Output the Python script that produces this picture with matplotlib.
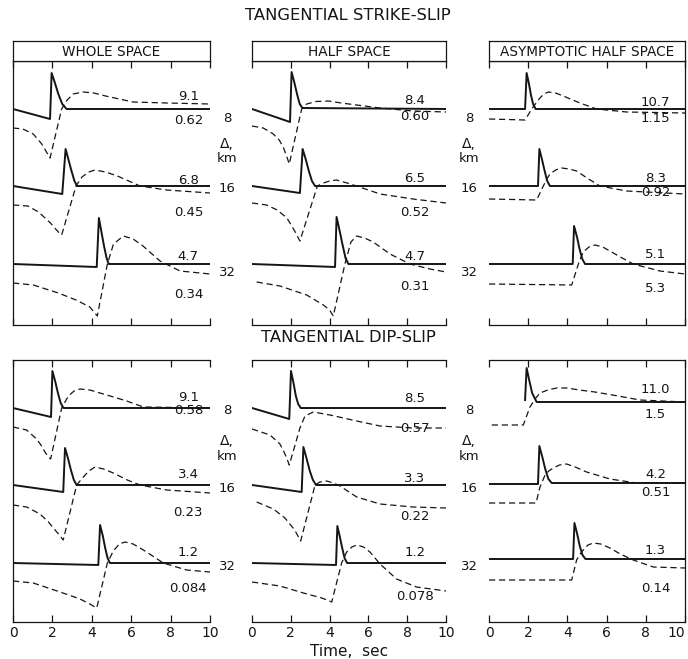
import numpy as np
import matplotlib.pyplot as plt

# Figure size in pixels (dpi 100)
W, H = 688, 659
INK = '#151515'

# ---------------- data ----------------
STATIONS = ['8', '16', '32']
ROW_TITLES = ['TANGENTIAL STRIKE-SLIP', 'TANGENTIAL DIP-SLIP']
MODEL_NAMES = ['WHOLE SPACE', 'HALF SPACE', 'ASYMPTOTIC HALF SPACE']
TIME_TICKS = [0, 2, 4, 6, 8, 10]

# Peak amplitudes written beside each trace: solid (upper) and dashed (lower)
SS_SOLID_PEAKS = [['9.1', '6.8', '4.7'], ['8.4', '6.5', '4.7'], ['10.7', '8.3', '5.1']]
SS_DASH_PEAKS = [['0.62', '0.45', '0.34'], ['0.60', '0.52', '0.31'], ['1.15', '0.92', '5.3']]
DS_SOLID_PEAKS = [['9.1', '3.4', '1.2'], ['8.5', '3.3', '1.2'], ['11.0', '4.2', '1.3']]
DS_DASH_PEAKS = [['0.58', '0.23', '0.084'], ['0.57', '0.22', '0.078'], ['1.5', '0.51', '0.14']]

# Traces, one (time sec, amplitude) pair per station; amplitude 0 = station baseline
# strike-slip, whole space
WS_SS_SOLID = [
    ([0, 1.88, 1.96, 2.13, 2.30, 2.50, 2.72, 10], [0, -10, 36, 26, 15, 5, 0, 0]),
    ([0, 2.50, 2.67, 2.82, 2.97, 3.12, 3.25, 10], [0, -8, 37, 26, 15, 5, 0, 0]),
    ([0, 4.25, 4.36, 4.49, 4.62, 4.75, 4.86, 10], [0, -3, 46, 32, 18, 6, 0, 0]),
]
WS_SS_DASH = [
    ([0, 0.50, 1.03, 1.46, 1.70, 1.88, 2.47, 2.75, 3.05, 3.57, 4.10, 4.70, 5.40, 6.10, 7.80, 10],
     [-19, -20, -25, -35, -43, -49, 0, 9, 15, 17, 16, 13, 10, 7, 6, 5]),
    ([0, 0.75, 1.30, 1.90, 2.30, 2.47, 3.20, 3.50, 3.85, 4.16, 4.70, 5.30, 6.45, 7.80, 10],
     [-19, -20, -26, -37, -46, -49, 0, 9, 14, 16, 14, 10, 0, -4, -7]),
    ([0, 1.03, 2.30, 3.20, 3.90, 4.28, 4.79, 5.10, 5.60, 6.10, 6.60, 7.46, 8.48, 10],
     [-19, -21, -29, -36, -43, -52, 0, 20, 28, 25, 18, 3, -7, -10]),
]
# strike-slip, half space
HS_SS_SOLID = [
    ([0, 1.96, 2.04, 2.19, 2.32, 2.46, 2.60, 10], [0, -13, 37, 26, 15, 5, 1, 0]),
    ([0, 2.47, 2.61, 2.78, 2.93, 3.09, 3.25, 10], [0, -7, 37, 26, 15, 5, 0, 0]),
    ([0, 4.28, 4.36, 4.52, 4.67, 4.82, 4.97, 10], [0, -3, 47, 33, 19, 6, 0, 0]),
]
HS_SS_DASH = [
    ([0, 0.58, 1.10, 1.40, 1.61, 1.80, 1.92, 2.56, 2.82, 3.30, 3.94, 4.60, 5.39, 6.60, 8.30, 10],
     [-17, -19, -25, -31, -38, -48, -55, 0, 5, 7.5, 8, 6, 4, 1, -2, -3]),
    ([0, 0.75, 1.30, 1.80, 2.20, 2.47, 3.37, 3.68, 4.00, 4.36, 4.90, 5.39, 6.60, 8.30, 10],
     [-17, -19, -24, -32, -45, -55, 0, 3, 5, 6, 3, 0, -8, -13, -17]),
    ([0.24, 1.44, 2.82, 3.68, 4.00, 4.19, 4.79, 5.10, 5.39, 5.80, 6.25, 7.11, 8.14, 9.17, 10],
     [-18, -22, -31, -41, -46, -52, 0, 22, 28, 26, 22, 10, 0, -5, -8]),
]
# strike-slip, asymptotic half space
AS_SS_SOLID = [
    ([0, 1.84, 1.92, 2.04, 2.14, 2.25, 2.38, 10], [0, 0, 36, 25, 14, 5, 0, 0]),
    ([0, 2.50, 2.57, 2.71, 2.84, 2.97, 3.11, 10], [0, 0, 37, 26, 15, 5, 0, 0]),
    ([0, 4.27, 4.34, 4.49, 4.62, 4.76, 4.90, 10], [0, 0, 38, 27, 15, 5, 0, 0]),
]
AS_SS_DASH = [
    ([0, 1.84, 2.18, 2.40, 2.60, 2.80, 3.03, 3.40, 3.79, 4.64, 5.49, 7.02, 10],
     [-10, -11, 0, 6, 11, 15, 17, 16, 13, 6, 0, -3, -4]),
    ([0, 2.43, 2.77, 2.95, 3.11, 3.40, 3.70, 4.10, 4.47, 5.00, 5.66, 7.02, 10],
     [-13, -14, 0, 7, 12, 16, 18, 17, 15, 8, 0, -5, -8]),
    ([0, 4.22, 4.56, 4.70, 4.81, 5.10, 5.41, 5.80, 6.17, 6.70, 7.36, 8.72, 10],
     [-20, -21, 0, 7, 12, 17, 19, 17, 13, 7, 0, -7, -10]),
]
# dip-slip, whole space
WS_DS_SOLID = [
    ([0, 1.93, 2.00, 2.15, 2.28, 2.42, 2.56, 10], [0, -9, 37, 26, 15, 5, 0, 0]),
    ([0, 2.55, 2.64, 2.80, 2.94, 3.09, 3.23, 10], [0, -7, 37, 26, 15, 5, 0, 0]),
    ([0, 4.33, 4.42, 4.56, 4.68, 4.80, 4.92, 10], [0, -2, 38, 27, 15, 5, 0, 0]),
]
WS_DS_DASH = [
    ([0, 0.69, 1.20, 1.45, 1.62, 1.80, 1.91, 2.47, 2.81, 3.10, 3.40, 3.90, 4.42, 5.10, 5.77, 6.62, 10],
     [-19, -22, -31, -38, -44, -49, -51, 0, 12, 17, 19, 18, 15, 11, 7, 1, 0]),
    ([0, 0.69, 1.37, 1.80, 2.05, 2.35, 2.55, 3.23, 3.57, 3.85, 4.16, 4.60, 5.09, 5.80, 6.45, 7.80, 10],
     [-20, -22, -29, -37, -43, -50, -55, 0, 8, 14, 18, 16, 12, 5, 0, -5, -8]),
    ([0, 1.03, 2.39, 3.40, 3.90, 4.25, 4.79, 5.09, 5.40, 5.69, 6.10, 6.62, 7.63, 8.81, 10],
     [-18, -20, -29, -36, -41, -45, 0, 12, 19, 21, 19, 13, 0, -7, -9]),
]
# dip-slip, half space
HS_DS_SOLID = [
    ([0, 1.92, 2.01, 2.15, 2.26, 2.38, 2.51, 10], [0, -11, 37, 24, 12, 4, 0, 0]),
    ([0, 2.56, 2.65, 2.82, 2.98, 3.14, 3.30, 10], [0, -7, 38, 26, 14, 5, 0, 0]),
    ([0, 4.33, 4.40, 4.53, 4.65, 4.77, 4.90, 10], [0, -2, 37, 26, 15, 5, 0, 0]),
]
HS_DS_DASH = [
    ([0, 0.93, 1.44, 1.65, 1.79, 1.92, 2.22, 2.47, 2.73, 3.16, 4.02, 5.40, 6.60, 8.30, 10],
     [-21, -27, -36, -44, -50, -57, -37, -20, -8, -4, -7, -13, -18, -20, -20]),
    ([0.24, 1.10, 1.70, 2.20, 2.51, 3.25, 3.50, 3.85, 4.20, 4.54, 5.00, 5.40, 6.60, 8.30, 10],
     [-17, -24, -33, -45, -56, 0, 3, 4, 2, -1, -7, -12, -19, -22, -23]),
    ([0, 1.44, 2.65, 3.60, 4.11, 4.62, 4.88, 5.15, 5.40, 5.75, 6.08, 6.60, 7.45, 8.48, 10],
     [-19, -23, -30, -35, -39, 0, 11, 16, 18, 16, 11, -1, -16, -24, -28]),
]
# dip-slip, asymptotic half space
AS_DS_SOLID = [
    ([1.84, 1.92, 2.05, 2.20, 2.43, 10], [8, 40, 28, 15, 6, 6]),
    ([0, 2.50, 2.57, 2.72, 2.87, 3.03, 3.20, 10], [1, 1, 39, 28, 16, 6, 2, 2]),
    ([0, 4.29, 4.36, 4.50, 4.63, 4.77, 4.92, 10], [4, 4, 40, 29, 17, 8, 4, 4]),
]
AS_DS_DASH = [
    ([0.14, 1.75, 2.09, 2.35, 2.60, 3.00, 3.45, 4.00, 4.60, 5.40, 6.30, 7.70, 10],
     [-17, -17, 1, 9, 15, 18, 20, 20, 18, 16, 13, 8, 6]),
    ([0, 2.40, 2.60, 2.86, 3.05, 3.28, 3.60, 3.96, 4.40, 4.98, 6.17, 7.53, 10],
     [-18, -18, -2, 10, 14, 17, 20, 21, 18, 13, 6, 2, 2]),
    ([0, 4.22, 4.47, 4.65, 4.81, 5.05, 5.32, 5.70, 6.17, 6.70, 7.36, 8.38, 10],
     [-17, -17, 3, 9, 13, 18, 20, 19, 15, 9, 3, -4, -5]),
]

# ---------------- layout (pixels) ----------------
COL_X = [(13, 210), (252, 446), (489, 685)]
BOX_Y = (41, 61)                      # model name boxes above the upper row
ROW_Y = [(61, 325), (360, 622)]       # top / bottom of each row of panels
BASELINE = [[216, 139, 61], [214, 137, 59]]   # station baselines, px above panel bottom
LABEL_T = [8.9, 8.4, 8.5]            # time where amplitude numbers are centred
UPPER_DY = [[[13, 6, 7], [8, 7, 8], [7, 7, 9]],
            [[10, 10, 11], [9, 6, 11], [18, 11, 13]]]
LOWER_DY = [[[-12, -27, -30], [-7, -27, -22], [-10, -6, -25]],
            [[-2, -28, -25], [-21, -31, -34], [-6, -8, -25]]]
DIST_X = [227, 469]
DIST_Y = [[118, 188, 273], [410, 488, 567]]
DELTA_Y = [[144, 159], [441, 456]]
TITLE_Y = [15, 338]
NUM_SIZE = 9.5


def fig_rect(x0, y0, x1, y1):
    return [x0 / W, 1 - y1 / H, (x1 - x0) / W, (y1 - y0) / H]


def draw_panel(ax, row, col, solid, dashed, upper, lower):
    base = BASELINE[row]
    for k in range(len(STATIONS)):
        t, v = solid[k]
        ax.plot(t, np.array(v) + base[k], color=INK, lw=1.4)
        t, v = dashed[k]
        ax.plot(t, np.array(v) + base[k], color=INK, lw=0.9, dashes=(5, 3))
        ax.text(LABEL_T[col], base[k] + UPPER_DY[row][col][k], upper[k],
                ha='center', va='center', fontsize=NUM_SIZE, color=INK)
        ax.text(LABEL_T[col], base[k] + LOWER_DY[row][col][k], lower[k],
                ha='center', va='center', fontsize=NUM_SIZE, color=INK)

    y0, y1 = ROW_Y[row]
    ax.set_xlim(0, 10)
    ax.set_ylim(0, y1 - y0)
    ax.set_xticks(TIME_TICKS)
    ax.set_yticks([])
    ax.tick_params(axis='x', direction='in', top=True, bottom=True, length=5,
                   width=0.9, color=INK, labelsize=10, pad=3, labelcolor=INK)
    for side in ['top', 'bottom', 'left', 'right']:
        ax.spines[side].set_color(INK)
        ax.spines[side].set_linewidth(0.9)
    ax.spines['left'].set_visible(col == 0)
    ax.spines['right'].set_visible(col == 2)
    if row == 0:
        ax.tick_params(axis='x', labelbottom=False)
    else:
        ax.set_xticklabels([str(t) for t in TIME_TICKS])
        if col == 2:
            # last label sits at the figure edge
            ax.get_xticklabels()[-1].set_horizontalalignment('right')
    if row == 1 and col == 1:
        ax.set_xlabel('Time,  sec', fontsize=11, color=INK, labelpad=3)


def main():
    fig = plt.figure(figsize=(W / 100, H / 100), dpi=100)

    panels = [
        [(WS_SS_SOLID, WS_SS_DASH), (HS_SS_SOLID, HS_SS_DASH), (AS_SS_SOLID, AS_SS_DASH)],
        [(WS_DS_SOLID, WS_DS_DASH), (HS_DS_SOLID, HS_DS_DASH), (AS_DS_SOLID, AS_DS_DASH)],
    ]
    solid_peaks = [SS_SOLID_PEAKS, DS_SOLID_PEAKS]
    dash_peaks = [SS_DASH_PEAKS, DS_DASH_PEAKS]

    for row in range(2):
        for col in range(3):
            x0, x1 = COL_X[col]
            y0, y1 = ROW_Y[row]
            ax = fig.add_axes(fig_rect(x0, y0, x1, y1))
            solid, dashed = panels[row][col]
            draw_panel(ax, row, col, solid, dashed,
                       solid_peaks[row][col], dash_peaks[row][col])

            if row == 0:
                # model name box on top of the upper panels
                bx = fig.add_axes(fig_rect(x0, BOX_Y[0], x1, BOX_Y[1]))
                bx.set_xticks([])
                bx.set_yticks([])
                for side in bx.spines.values():
                    side.set_color(INK)
                    side.set_linewidth(0.9)
                bx.text(0.5, 0.45, MODEL_NAMES[col], ha='center', va='center',
                        fontsize=9.8, color=INK, transform=bx.transAxes)

        # row titles and station distance labels
        fig.text(348 / W, 1 - TITLE_Y[row] / H, ROW_TITLES[row], ha='center',
                 va='center', fontsize=11.8, color=INK)
        for x in DIST_X:
            for k, d in enumerate(STATIONS):
                fig.text(x / W, 1 - DIST_Y[row][k] / H, d, ha='center',
                         va='center', fontsize=9.5, color=INK)
            fig.text(x / W, 1 - DELTA_Y[row][0] / H, 'Δ,', ha='center',
                     va='center', fontsize=10, color=INK)
            fig.text(x / W, 1 - DELTA_Y[row][1] / H, 'km', ha='center',
                     va='center', fontsize=9.5, color=INK)

    fig.savefig('out.png', dpi=100)


if __name__ == '__main__':
    main()
